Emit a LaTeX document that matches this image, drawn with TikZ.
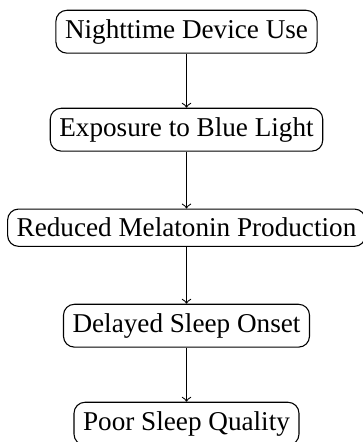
\documentclass[tikz,border=0pt]{standalone}
\usepackage{fontspec}
\setmainfont{Liberation Serif}
\begin{document}
\begin{tikzpicture}[x=0.368pt,y=-0.368pt,
  stage/.style={draw, rounded corners=4pt, inner sep=0.3333em, font=\normalsize},
  flow/.style={->}]
\useasboundingbox (0,0) rectangle (362,442);
\node[stage] (n1) at (186.5,31.7)  {Nighttime Device Use};
\node[stage] (n2) at (186.5,129.7) {Exposure to Blue Light};
\node[stage] (n3) at (186.5,227.7) {Reduced Melatonin Production};
\node[stage] (n4) at (186.5,325.7) {Delayed Sleep Onset};
\node[stage] (n5) at (186.5,423.7) {Poor Sleep Quality};
\draw[flow] (n1) -- (n2);
\draw[flow] (n2) -- (n3);
\draw[flow] (n3) -- (n4);
\draw[flow] (n4) -- (n5);
\end{tikzpicture}
\end{document}
